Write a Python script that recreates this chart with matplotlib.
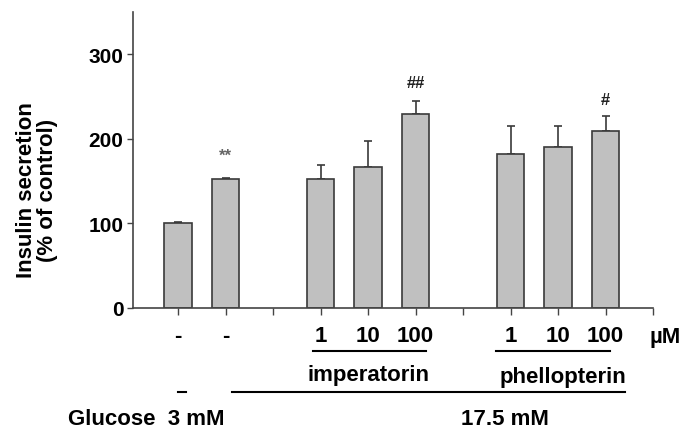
import numpy as np
import matplotlib
matplotlib.use("Agg")
import matplotlib.pyplot as plt
import matplotlib.transforms as mtrans

plt.rcParams['font.family'] = ['Liberation Sans', 'DejaVu Sans']
plt.rcParams['font.weight'] = 'bold'
plt.rcParams['axes.labelweight'] = 'bold'

# data
positions = [0, 1, 3, 4, 5, 7, 8, 9]
secretion = [100, 152, 153, 167, 229, 182, 190, 209]
sem = [2, 2, 16, 31, 16, 33, 25, 18]
dose_labels = ["-", "-", "1", "10", "100", "1", "10", "100"]
marks = {1: ("**", 181), 5: ("##", 267), 9: ("#", 246)}
compounds = ["imperatorin", "phellopterin"]

W, H = 699, 431
fig = plt.figure(figsize=(W / 100, H / 100), dpi=100)
ax = fig.add_axes([133 / W, 1 - 309 / H, (653 - 133) / W, (309 - 13) / H])

ax.bar(positions, secretion, width=0.58, color='#c0c0c0', edgecolor='#3a3a3a',
       linewidth=1.2, zorder=2)
ax.errorbar(positions, secretion, yerr=[np.zeros(len(sem)), sem], fmt='none',
            ecolor='#3a3a3a', elinewidth=1.2, capsize=3, capthick=1.2, zorder=1)

for x, (txt, y) in marks.items():
    ax.text(x, y, txt, ha='center', va='center', fontsize=12,
            color='#666666' if txt == "**" else '#222222')

ax.set_xlim(-0.95, 10.0)
ax.set_ylim(0, 350)
ax.set_yticks([0, 100, 200, 300])
ax.set_xticks(range(11))
ax.set_xticklabels([])
ax.tick_params(axis='x', direction='out', length=5, width=1, color='#444444')
ax.tick_params(axis='y', direction='out', length=4, width=1, color='#444444',
               labelsize=15, pad=3)
for s in ['top', 'right']:
    ax.spines[s].set_visible(False)
for s in ['left', 'bottom']:
    ax.spines[s].set_color('#444444')
    ax.spines[s].set_linewidth(1.2)

ax.set_ylabel("Insulin secretion\n(% of control)", fontsize=16, linespacing=1.05,
              va='center', ha='center')
ax.yaxis.set_label_coords((37 - 133) / (653 - 133), (309 - 190) / (309 - 13))

# annotation rows below the axis: data x, figure y
tr = mtrans.blended_transform_factory(ax.transData, fig.transFigure)
def fy(py):
    return 1 - py / H

for x, lab in zip(positions, dose_labels):
    ax.text(x, fy(337), lab, transform=tr, ha='center', va='center', fontsize=16)
ax.text(10.25, fy(337), "\u00b5M", transform=tr, ha='center', va='center', fontsize=16)

ax.plot([2.83, 5.23], [fy(352)] * 2, transform=tr, color='k', lw=1.5, clip_on=False)
ax.plot([6.69, 9.09], [fy(352)] * 2, transform=tr, color='k', lw=1.5, clip_on=False)
ax.text(4.0, fy(376), compounds[0], transform=tr, ha='center', va='center', fontsize=16)
ax.text(8.1, fy(378), compounds[1], transform=tr, ha='center', va='center', fontsize=16)

ax.plot([0.0, 0.17], [fy(393)] * 2, transform=tr, color='k', lw=1.5, clip_on=False)
ax.plot([1.14, 9.41], [fy(393)] * 2, transform=tr, color='k', lw=1.5, clip_on=False)
ax.text(-2.32, fy(420), "Glucose  3 mM", transform=tr, ha='left', va='center', fontsize=16)
ax.text(6.88, fy(420), "17.5 mM", transform=tr, ha='center', va='center', fontsize=16)

fig.savefig("out.png", dpi=100)
